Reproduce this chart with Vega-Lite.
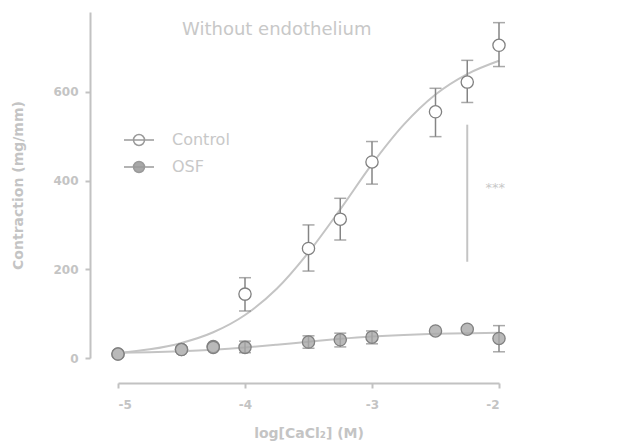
{
  "$schema": "https://vega.github.io/schema/vega-lite/v6.json",
  "width": 381,
  "height": 346,
  "autosize": "none",
  "padding": {"left": 118, "top": 12, "right": 123, "bottom": 84},
  "config": {
    "view": {"stroke": null},
    "font": "DejaVu Sans",
    "axis": {
      "grid": false,
      "domainColor": "#c2c2c2",
      "domainWidth": 2,
      "tickColor": "#c2c2c2",
      "tickWidth": 2,
      "tickSize": 5,
      "labelColor": "#c4c4c4",
      "labelFont": "DejaVu Sans",
      "labelFontWeight": "bold",
      "labelFontSize": 12,
      "titleColor": "#c4c4c4",
      "titleFont": "DejaVu Sans",
      "titleFontWeight": "bold",
      "titleFontSize": 14
    }
  },
  "datasets": {
    "points": [
      {"series": "Control", "x": -5, "mean": 9, "lo": null, "hi": null},
      {"series": "Control", "x": -4.5, "mean": 19, "lo": null, "hi": null},
      {"series": "Control", "x": -4.25, "mean": 26, "lo": null, "hi": null},
      {"series": "Control", "x": -4, "mean": 144, "lo": 106, "hi": 181},
      {"series": "Control", "x": -3.5, "mean": 247, "lo": 196, "hi": 300},
      {"series": "Control", "x": -3.25, "mean": 313, "lo": 266, "hi": 360},
      {"series": "Control", "x": -3, "mean": 442, "lo": 392, "hi": 488},
      {"series": "Control", "x": -2.5, "mean": 555, "lo": 499, "hi": 608},
      {"series": "Control", "x": -2.25, "mean": 622, "lo": 576, "hi": 671},
      {"series": "Control", "x": -2, "mean": 705, "lo": 657, "hi": 756},
      {"series": "OSF", "x": -5, "mean": 9, "lo": null, "hi": null},
      {"series": "OSF", "x": -4.5, "mean": 19, "lo": null, "hi": null},
      {"series": "OSF", "x": -4.25, "mean": 24, "lo": null, "hi": null},
      {"series": "OSF", "x": -4, "mean": 24, "lo": 12, "hi": 38},
      {"series": "OSF", "x": -3.5, "mean": 36, "lo": 22, "hi": 50},
      {"series": "OSF", "x": -3.25, "mean": 41, "lo": 25, "hi": 56},
      {"series": "OSF", "x": -3, "mean": 47, "lo": 32, "hi": 61},
      {"series": "OSF", "x": -2.5, "mean": 61, "lo": null, "hi": null},
      {"series": "OSF", "x": -2.25, "mean": 65, "lo": null, "hi": null},
      {"series": "OSF", "x": -2, "mean": 44, "lo": 14, "hi": 73}
    ],
    "curves": [
      {"series": "Control", "x": -5, "y": 11},
      {"series": "Control", "x": -4.75, "y": 19.5},
      {"series": "Control", "x": -4.5, "y": 34},
      {"series": "Control", "x": -4.25, "y": 58},
      {"series": "Control", "x": -4, "y": 97},
      {"series": "Control", "x": -3.75, "y": 156},
      {"series": "Control", "x": -3.5, "y": 238},
      {"series": "Control", "x": -3.25, "y": 335},
      {"series": "Control", "x": -3, "y": 437},
      {"series": "Control", "x": -2.75, "y": 526},
      {"series": "Control", "x": -2.5, "y": 594},
      {"series": "Control", "x": -2.25, "y": 640},
      {"series": "Control", "x": -2, "y": 670},
      {"series": "OSF", "x": -5, "y": 11.8},
      {"series": "OSF", "x": -4.75, "y": 13.2},
      {"series": "OSF", "x": -4.5, "y": 15.4},
      {"series": "OSF", "x": -4.25, "y": 18.8},
      {"series": "OSF", "x": -4, "y": 23.7},
      {"series": "OSF", "x": -3.75, "y": 29.9},
      {"series": "OSF", "x": -3.5, "y": 36.8},
      {"series": "OSF", "x": -3.25, "y": 43.2},
      {"series": "OSF", "x": -3, "y": 48.4},
      {"series": "OSF", "x": -2.75, "y": 52.1},
      {"series": "OSF", "x": -2.5, "y": 54.5},
      {"series": "OSF", "x": -2.25, "y": 55.9},
      {"series": "OSF", "x": -2, "y": 56.8}
    ],
    "sig": [{"x": -2.25, "y": 217, "y2": 526}],
    "labels": [
      {"x": -2.03, "y": 384, "label": "***", "kind": "sig"},
      {"x": -3.75, "y": 740, "label": "Without endothelium", "kind": "title"}
    ]
  },
  "layer": [
    {
      "data": {"name": "curves"},
      "mark": {"type": "line", "color": "#c4c4c4", "strokeWidth": 2, "interpolate": "monotone"},
      "encoding": {
        "x": {
          "field": "x", "type": "quantitative",
          "scale": {"domain": [-5, -2], "nice": false, "zero": false},
          "axis": {
            "values": [-5, -4, -3, -2],
            "offset": 25,
            "labelPadding": 11,
            "titlePadding": 16,
            "labelExpr": "datum.value < 0 ? '-' + (-datum.value) : '' + datum.value",
            "title": "log[CaCl₂] (M)"
          }
        },
        "y": {
          "field": "y", "type": "quantitative",
          "scale": {"domain": [0, 780], "nice": false},
          "axis": {
            "values": [0, 200, 400, 600],
            "offset": 28,
            "labelPadding": 7,
            "titlePadding": 27,
            "title": "Contraction (mg/mm)"
          }
        },
        "detail": {"field": "series"}
      }
    },
    {
      "data": {"name": "sig"},
      "mark": {"type": "rule", "color": "#c4c4c4", "strokeWidth": 2},
      "encoding": {
        "x": {"field": "x", "type": "quantitative"},
        "y": {"field": "y", "type": "quantitative"},
        "y2": {"field": "y2"}
      }
    },
    {
      "data": {"name": "labels"},
      "transform": [{"filter": "datum.kind == 'sig'"}],
      "mark": {"type": "text", "color": "#c8c8c8", "fontSize": 13, "align": "center", "baseline": "middle"},
      "encoding": {
        "x": {"field": "x", "type": "quantitative"},
        "y": {"field": "y", "type": "quantitative"},
        "text": {"field": "label"}
      }
    },
    {
      "data": {"name": "labels"},
      "transform": [{"filter": "datum.kind == 'title'"}],
      "mark": {"type": "text", "color": "#c8c8c8", "fontSize": 18, "align": "center", "baseline": "middle"},
      "encoding": {
        "x": {"field": "x", "type": "quantitative"},
        "y": {"field": "y", "type": "quantitative"},
        "text": {"field": "label"}
      }
    },
    {
      "data": {"name": "points"},
      "transform": [{"filter": "datum.lo != null"}],
      "mark": {"type": "rule", "color": "#858585", "strokeWidth": 1.5},
      "encoding": {
        "x": {"field": "x", "type": "quantitative"},
        "y": {"field": "lo", "type": "quantitative"},
        "y2": {"field": "hi"}
      }
    },
    {
      "data": {"name": "points"},
      "transform": [{"filter": "datum.lo != null"}],
      "mark": {"type": "tick", "orient": "horizontal", "size": 12, "thickness": 1.5, "color": "#858585"},
      "encoding": {
        "x": {"field": "x", "type": "quantitative"},
        "y": {"field": "lo", "type": "quantitative"}
      }
    },
    {
      "data": {"name": "points"},
      "transform": [{"filter": "datum.lo != null"}],
      "mark": {"type": "tick", "orient": "horizontal", "size": 12, "thickness": 1.5, "color": "#858585"},
      "encoding": {
        "x": {"field": "x", "type": "quantitative"},
        "y": {"field": "hi", "type": "quantitative"}
      }
    },
    {
      "data": {"name": "points"},
      "mark": {"type": "point", "shape": "circle", "filled": true, "size": 150, "stroke": "#808080", "strokeWidth": 1.3, "opacity": 1},
      "encoding": {
        "x": {"field": "x", "type": "quantitative"},
        "y": {"field": "mean", "type": "quantitative"},
        "fill": {
          "field": "series", "type": "nominal",
          "scale": {"domain": ["Control", "OSF"], "range": ["#ffffff", "#a8a8a8"]},
          "legend": {
            "title": null,
            "orient": "none",
            "legendX": 10,
            "legendY": 117,
            "padding": 0,
            "symbolType": "M-1.5,0L1.5,0M0.55,0A0.55,0.55,0,1,1,-0.55,0A0.55,0.55,0,1,1,0.55,0",
            "symbolSize": 400,
            "symbolStrokeColor": "#9a9a9a",
            "symbolStrokeWidth": 1.5,
            "symbolOpacity": 1,
            "labelOffset": 22,
            "labelFont": "DejaVu Sans",
            "labelFontSize": 16,
            "labelColor": "#c8c8c8",
            "rowPadding": 7
          }
        },
        "fillOpacity": {
          "field": "series", "type": "nominal",
          "scale": {"domain": ["Control", "OSF"], "range": [1, 0.8]},
          "legend": null
        }
      }
    }
  ]
}
